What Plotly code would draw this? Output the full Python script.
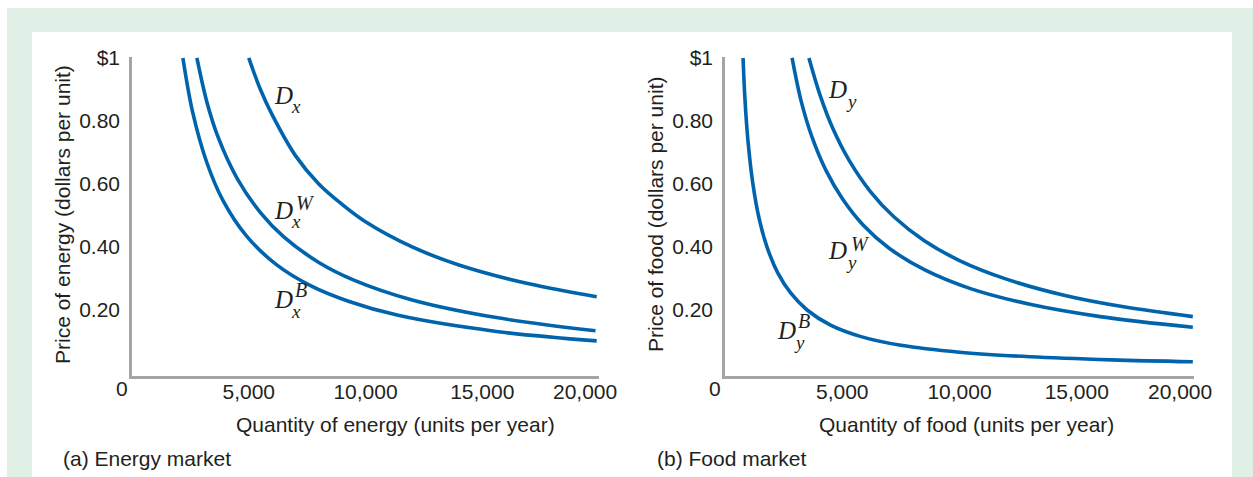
import plotly.graph_objects as go

# ---------------- data ----------------
# (a) Energy market: quantity (units per year) and price (dollars per unit)
energy_q_Dx = [5000, 5500, 6000, 7000, 8000, 9000, 10000, 12000, 14000, 17000, 19900]
energy_p_Dx = [1.00, 0.900, 0.820, 0.690, 0.600, 0.535, 0.480, 0.400, 0.343, 0.283, 0.242]

energy_q_DxW = [2780, 3200, 3700, 4500, 5500, 6500, 8000, 9500, 12000, 15600, 19850]
energy_p_DxW = [1.00, 0.862, 0.746, 0.618, 0.509, 0.432, 0.351, 0.295, 0.232, 0.176, 0.134]

energy_q_DxB = [2180, 2600, 3200, 3900, 4900, 6200, 7600, 9300, 11400, 15600, 19900]
energy_p_DxB = [1.00, 0.827, 0.669, 0.547, 0.435, 0.343, 0.279, 0.227, 0.183, 0.132, 0.102]

# (b) Food market
food_q_Dy = [3580, 4050, 4600, 5300, 6200, 7200, 8500, 10000, 12000, 14500, 17000, 19950]
food_p_Dy = [1.00, 0.883, 0.776, 0.674, 0.576, 0.496, 0.420, 0.357, 0.298, 0.246, 0.210, 0.179]

food_q_DyW = [2860, 3250, 3700, 4300, 5000, 5900, 7000, 8500, 10500, 13000, 16000, 19950]
food_p_DyW = [1.00, 0.862, 0.751, 0.644, 0.554, 0.469, 0.396, 0.328, 0.267, 0.218, 0.179, 0.145]

food_q_DyB = [770, 850, 980, 1190, 1450, 1800, 2250, 2800, 3500, 4500, 5800, 7500,
              10000, 13000, 16500, 19950]
food_p_DyB = [1.00, 0.871, 0.737, 0.600, 0.492, 0.398, 0.318, 0.254, 0.200, 0.152, 0.1155,
              0.088, 0.066, 0.0515, 0.0418, 0.0358]

y_tickvals = [0.2, 0.4, 0.6, 0.8, 1.0]
y_ticktext = ["0.20", "0.40", "0.60", "0.80", "$1"]
x_tickvals = [5000, 10000, 15000]
x_ticktext = ["5,000", "10,000", "15,000"]

# ---------------- styling ----------------
W, H = 1253, 477
BLUE = "#0064ad"
AXIS_GRAY = "#a3a5a8"
TEXT = "#231f20"
GREEN = "#e1f0e6"
SANS = "Liberation Sans, Arial, sans-serif"
SERIF = "Liberation Serif, Times New Roman, serif"
FS = 21


def px(x):
    return x / W


def py(y):
    return 1 - y / H


fig = go.Figure()

def add_curve(q, p, xa, ya):
    fig.add_trace(go.Scatter(
        x=q, y=p, mode="lines", xaxis=xa, yaxis=ya,
        line=dict(color=BLUE, width=3.6, shape="spline", smoothing=1.0),
        hoverinfo="skip", showlegend=False,
    ))

add_curve(energy_q_Dx, energy_p_Dx, "x", "y")
add_curve(energy_q_DxW, energy_p_DxW, "x", "y")
add_curve(energy_q_DxB, energy_p_DxB, "x", "y")
add_curve(food_q_Dy, food_p_Dy, "x2", "y2")
add_curve(food_q_DyW, food_p_DyW, "x2", "y2")
add_curve(food_q_DyB, food_p_DyB, "x2", "y2")

y_dom = [py(376), py(57)]
y_range = [-0.0095, 1.003]
x_range = [0, 20000]

common_x = dict(range=x_range, showline=True, linecolor=AXIS_GRAY, linewidth=2.5,
                showgrid=False, zeroline=False, ticks="", ticklen=0, tickvals=x_tickvals,
                ticktext=x_ticktext, tickfont=dict(family=SANS, size=FS, color=TEXT),
                fixedrange=True, ticklabelstandoff=-5)
common_y = dict(range=y_range, showline=True, linecolor=AXIS_GRAY, linewidth=2.5,
                showgrid=False, zeroline=False, ticks="", tickvals=y_tickvals,
                ticktext=y_ticktext, tickfont=dict(family=SANS, size=FS, color=TEXT),
                fixedrange=True, ticklabelstandoff=5, domain=y_dom)

fig.update_layout(
    width=W, height=H,
    margin=dict(l=0, r=0, t=0, b=0, autoexpand=False),
    paper_bgcolor="white", plot_bgcolor="white",
    xaxis=dict(domain=[px(132), px(599)], anchor="y", **common_x),
    yaxis=dict(anchor="x", **common_y),
    xaxis2=dict(domain=[px(725), px(1194)], anchor="y2", **common_x),
    yaxis2=dict(anchor="x2", **common_y),
    showlegend=False,
)

# background panels
fig.add_shape(type="rect", xref="paper", yref="paper", x0=px(7), x1=1.0,
              y0=0, y1=py(8), fillcolor=GREEN, line_width=0, layer="below")
fig.add_shape(type="rect", xref="paper", yref="paper", x0=px(32), x1=px(1232),
              y0=0, y1=py(32), fillcolor="white", line_width=0, layer="below")

ann = []

def text_ann(x, y, t, size=FS, xanchor="center", angle=0, family=SANS):
    ann.append(dict(x=px(x), y=py(y), xref="paper", yref="paper", text=t,
                    showarrow=False, xanchor=xanchor, yanchor="middle",
                    textangle=angle, font=dict(family=family, size=size, color=TEXT)))

# axis titles
text_ann(62, 215, "Price of energy (dollars per unit)", angle=-90)
text_ann(655, 215, "Price of food (dollars per unit)", angle=-90)
text_ann(395, 424, "Quantity of energy (units per year)")
text_ann(966, 424, "Quantity of food (units per year)")
# captions
text_ann(61, 458, "(a) Energy market", xanchor="left")
text_ann(655, 458, "(b) Food market", xanchor="left")

# origin "0" and final tick label, placed via the axes
for xa, ya in (("x", "y"), ("x2", "y2")):
    ann.append(dict(x=0, y=0, xref=xa, yref=ya, text="0", showarrow=False,
                    xshift=-10, yshift=-15, font=dict(family=SANS, size=FS, color=TEXT)))
    ann.append(dict(x=20000, y=0, xref=xa, yref=ya, text="20,000", showarrow=False,
                    xshift=-14, yshift=-18, font=dict(family=SANS, size=FS, color=TEXT)))

# curve labels: D with subscript and superscript
def curve_label(dx, dy, sub, sup=None, supx=None, supdy=-7, subdy=11):
    text_ann(dx, dy, "<i>D</i>", size=25, family=SERIF)
    text_ann(dx + 13, dy + subdy, "<i>%s</i>" % sub, size=19, family=SERIF)
    if sup:
        text_ann(dx + (supx if supx else 20), dy + supdy, "<i>%s</i>" % sup, size=20, family=SERIF)

curve_label(283, 95, "x")
curve_label(283, 210, "x", "W", 22)
curve_label(283, 299, "x", "B", 18, supdy=-9, subdy=12)
curve_label(838, 90, "y")
curve_label(838, 251, "y", "W", 22)
curve_label(786, 330, "y", "B", 18, supdy=-9, subdy=12)

fig.update_layout(annotations=ann)

fig.write_html(
    "out.html",
    config={"displayModeBar": False},
    post_script=("document.body.style.margin='0';document.body.style.overflow='hidden';"
                 "var gd=document.getElementById('{plot_id}');"
                 "gd.style.position='absolute';gd.style.top='0px';gd.style.left='0px';"),
)
